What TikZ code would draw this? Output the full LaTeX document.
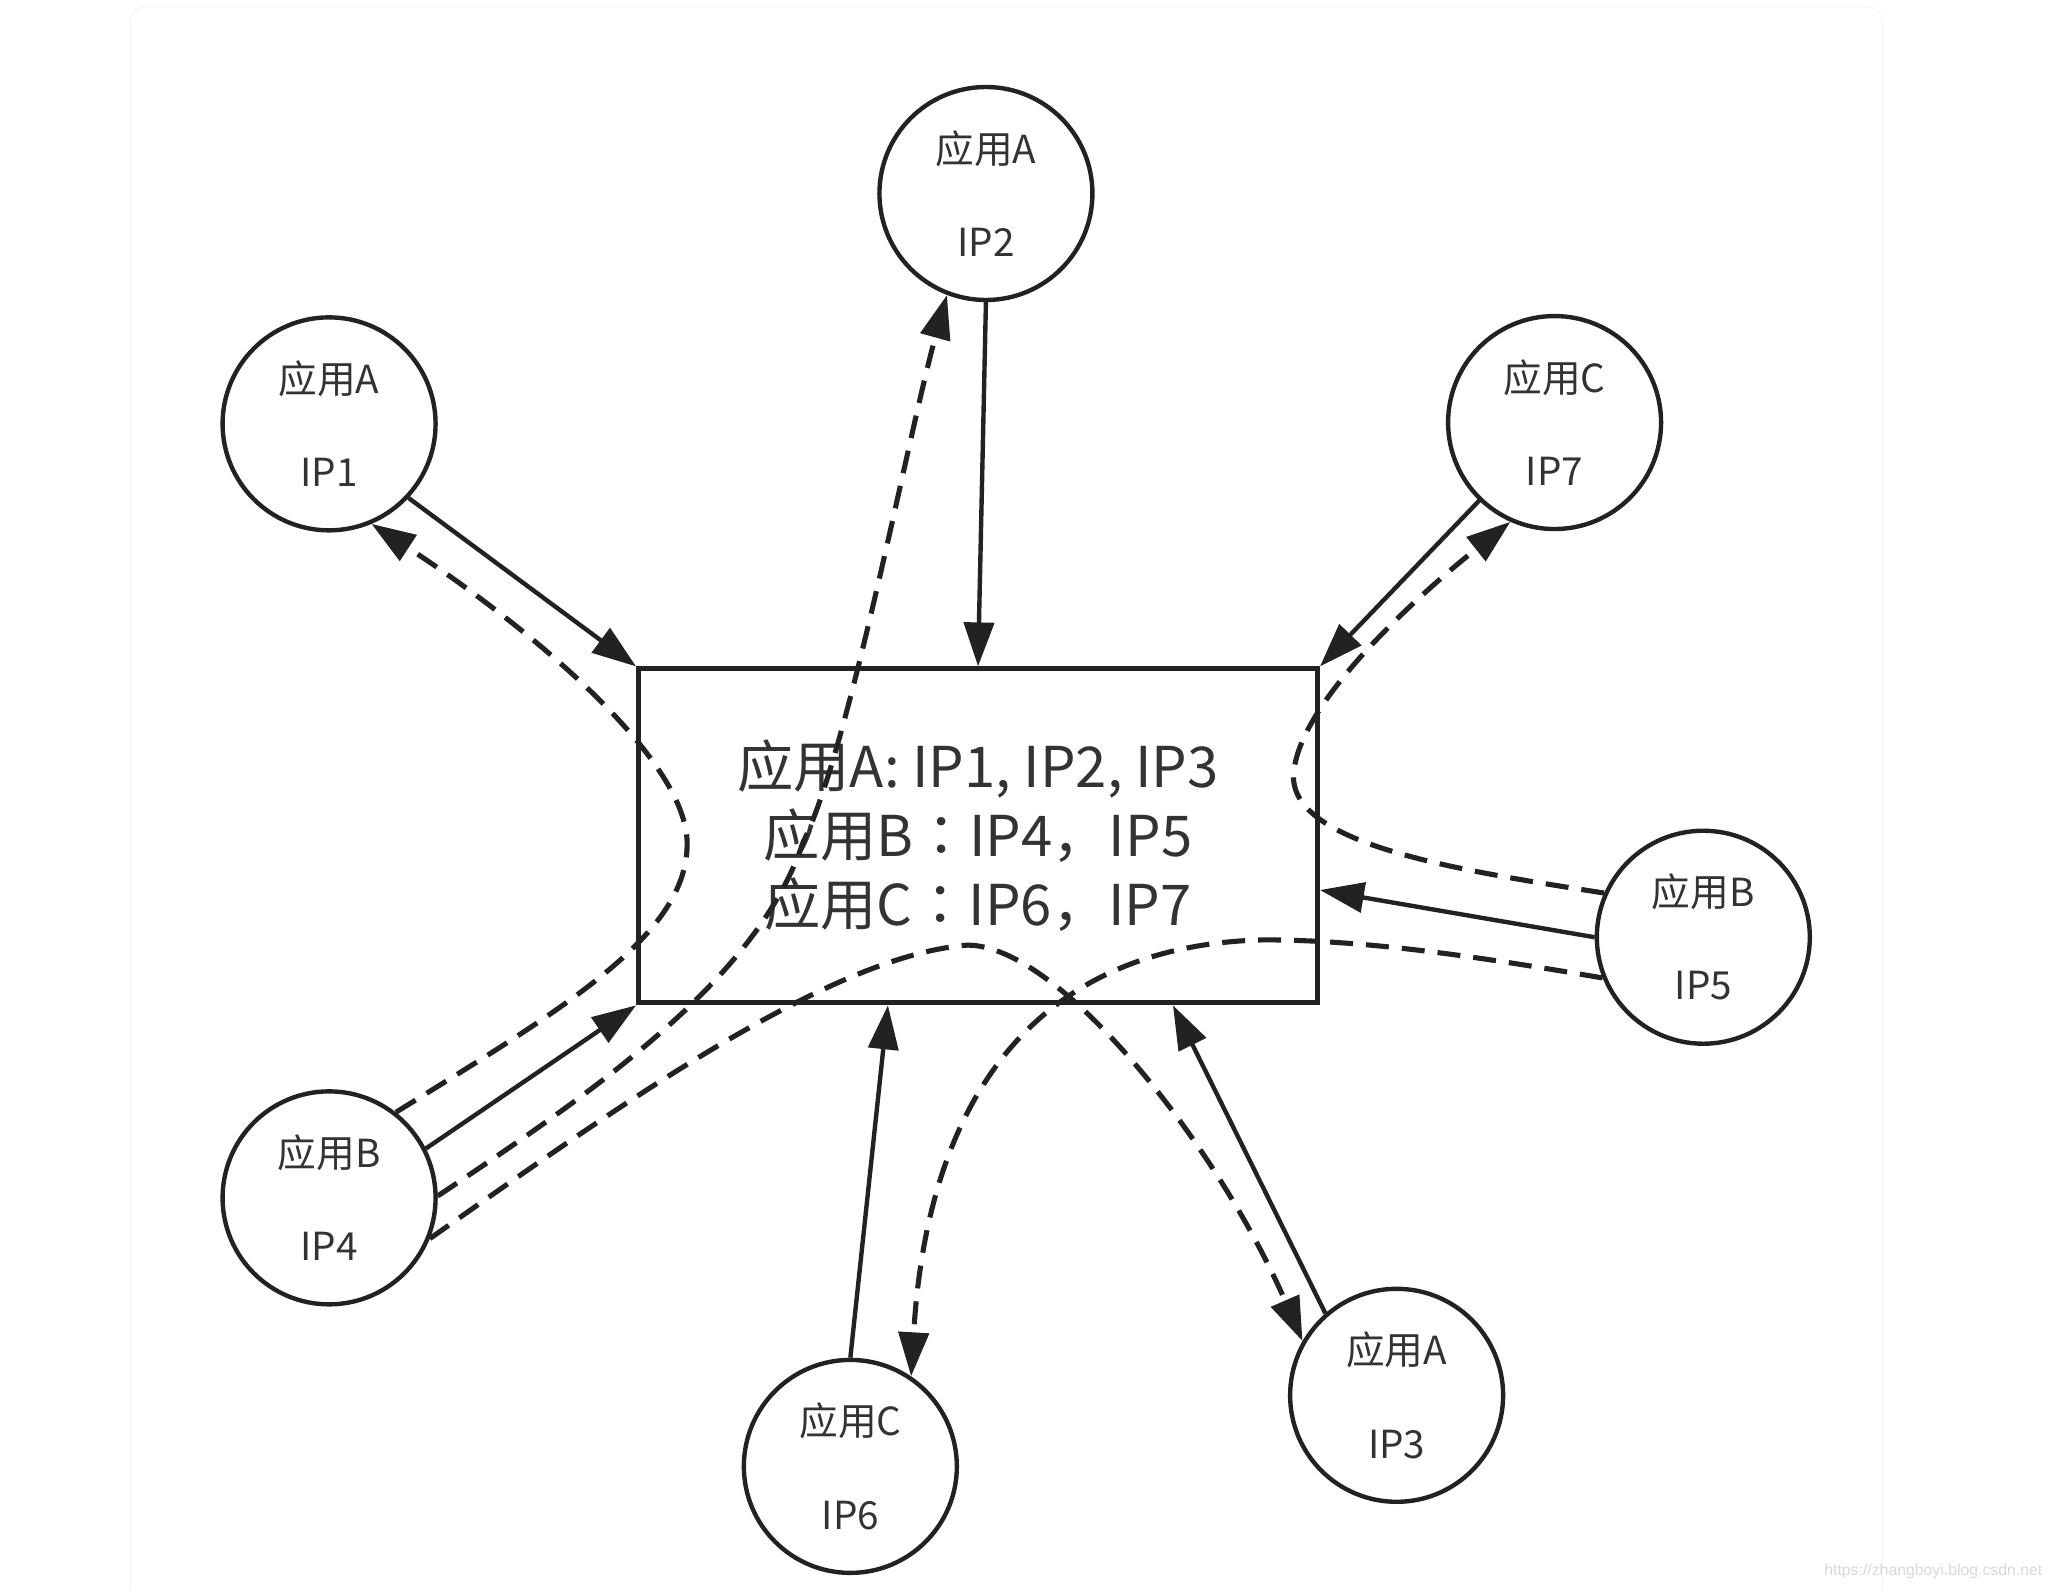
\documentclass[tikz,border=0pt]{standalone}
\usepackage{fontspec}
\setmainfont{Noto Sans CJK SC}
\newfontfamily\krfont{Noto Sans CJK KR}
\newfontfamily\markfont{Liberation Sans}
\usetikzlibrary{arrows.meta}

\definecolor{linegray}{HTML}{222222}
\definecolor{textgray}{HTML}{333333}

\tikzset{
  host/.style={circle, draw=linegray, line width=1.25pt, minimum size=21.3mm,
    inner sep=0pt, align=center, text=textgray,
    font=\fontsize{11}{26.5}\selectfont},
  registry/.style={rectangle, draw=linegray, line width=1.4pt,
    minimum width=67.9mm, minimum height=33.4mm, inner sep=0pt,
    align=center, text=textgray, font=\fontsize{16}{19.6}\selectfont},
  link/.style={draw=linegray, line width=1.25pt,
    -{Triangle[length=4.4mm,width=3mm]}},
  notify/.style={link, line width=1.45pt, dash pattern=on 2.3mm off 1.3mm},
}

\begin{document}
\begin{tikzpicture}[x=0.13163mm, y=-0.13163mm]
        \useasboundingbox (0,0) rectangle (1568,1209);

        % okraj a vodoznak
        \draw[black!3, line width=0.4pt, rounded corners=1.5mm]
            (99,1209) -- (99,5) -- (1430,5) -- (1430,1209);
        \node[font=\markfont\fontsize{4.5}{5}\selectfont, text=black!15, anchor=east]
            (mark) at (1561,1194) {https://zhangboyi.blog.csdn.net};

        % registr
        \node[registry] (box) at (743,635)
            {应用A: IP1, IP2, IP3\\应用B{\krfont：}IP4{\krfont，}IP5\\应用C{\krfont：}IP6{\krfont，}IP7};

        % stroje
        \node[host] (ip2) at (749,147) {应用A\\IP2};
        \node[host] (ip1) at (250,322) {应用A\\IP1};
        \node[host] (ip7) at (1181,321) {应用C\\IP7};
        \node[host] (ip5) at (1294,712) {应用B\\IP5};
        \node[host] (ip4) at (250,910) {应用B\\IP4};
        \node[host] (ip6) at (646,1114) {应用C\\IP6};
        \node[host] (ip3) at (1061,1060) {应用A\\IP3};

        % registrace
        \draw[link] (ip1.-43) -- (box.north west);
        \draw[link] (ip2.south) -- (box.north);
        \draw[link] (ip7.-134) -- (box.north east);
        \draw[link] (ip5.west) -- (box.-9);
        \draw[link] (ip6.north) -- (box.-118);
        \draw[link] (ip3.131) -- (box.-41);
        \draw[link] (ip4.27) -- (box.south west);

        % volani
        \draw[notify] (ip4.52) .. controls (430,765) and (523,710) .. (522,640)
            .. controls (521,575) and (400,475) .. (ip1.-67);
        \draw[notify] (ip4.1) .. controls (450,830) and (575,745) .. (610,640)
            .. controls (645,570) and (690,330) .. (ip2.-111);
        \draw[notify] (ip4.-22) .. controls (470,840) and (630,726) .. (735,718)
            .. controls (805,718) and (925,870) .. (ip3.150);
        \draw[notify] (ip5.156) .. controls (1100,660) and (975,640) .. (983,585)
            .. controls (990,530) and (1080,450) .. (ip7.-114);
        \draw[notify] (ip5.-158) .. controls (1130,728) and (1040,714) .. (960,714)
            .. controls (790,718) and (705,830) .. (ip6.56);
\end{tikzpicture}
\end{document}
